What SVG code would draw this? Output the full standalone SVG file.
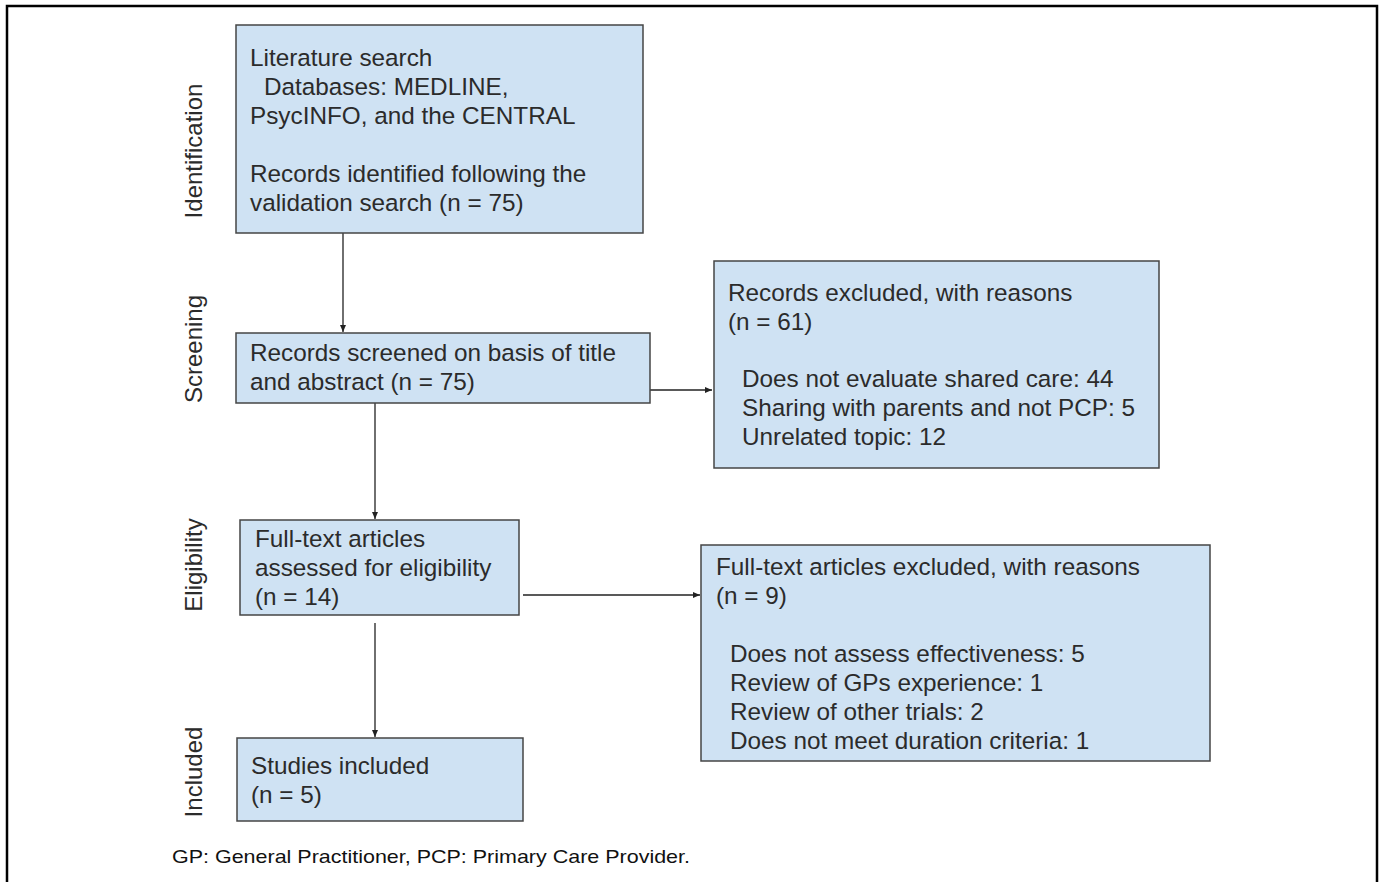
<svg xmlns="http://www.w3.org/2000/svg" width="1379" height="882" viewBox="0 0 1379 882">
<defs>
<marker id="ah" markerWidth="8" markerHeight="8" refX="7" refY="4" orient="auto" markerUnits="userSpaceOnUse">
<path d="M0,1 L7,4 L0,7 z" fill="#222"/>
</marker>
<style>
.box{fill:#cfe2f3;stroke:#454545;stroke-width:1.5}
.t{font-family:"Liberation Sans",Arial,sans-serif;font-size:24.3px;fill:#2b2b2b}
.side{font-family:"Liberation Sans",Arial,sans-serif;font-size:24px;fill:#2b2b2b}
.conn{stroke:#222;stroke-width:1.3;fill:none;marker-end:url(#ah)}
.note{font-family:"Liberation Sans",Arial,sans-serif;font-size:19px;fill:#111}
</style>
</defs>
<rect width="1379" height="882" fill="#fff"/>
<path d="M7,882 V6 H1377 V882" fill="none" stroke="#000" stroke-width="2.5"/>

<g id="labels">
<text class="side" transform="translate(202,151) rotate(-90)" text-anchor="middle">Identification</text>
<text class="side" transform="translate(202,349) rotate(-90)" text-anchor="middle">Screening</text>
<text class="side" transform="translate(202,565) rotate(-90)" text-anchor="middle">Eligibility</text>
<text class="side" transform="translate(202,772) rotate(-90)" text-anchor="middle">Included</text>
</g>

<g id="connectors">
<line class="conn" x1="343" y1="233" x2="343" y2="332"/>
<line class="conn" x1="650" y1="390" x2="712" y2="390"/>
<line class="conn" x1="375" y1="403" x2="375" y2="519"/>
<line class="conn" x1="523" y1="595" x2="700" y2="595"/>
<line class="conn" x1="375" y1="623" x2="375" y2="737"/>
</g>

<g id="n1">
<rect class="box" x="236" y="25" width="407" height="208"/>
<text class="t" x="250" y="66">Literature search</text>
<text class="t" x="264" y="95">Databases: MEDLINE,</text>
<text class="t" x="250" y="124">PsycINFO, and the CENTRAL</text>
<text class="t" x="250" y="182">Records identified following the</text>
<text class="t" x="250" y="211">validation search (n = 75)</text>
</g>

<g id="n2">
<rect class="box" x="236" y="333" width="414" height="70"/>
<text class="t" x="250" y="361">Records screened on basis of title</text>
<text class="t" x="250" y="390">and abstract (n = 75)</text>
</g>

<g id="n3">
<rect class="box" x="714" y="261" width="445" height="207"/>
<text class="t" x="728" y="301">Records excluded, with reasons</text>
<text class="t" x="728" y="330">(n = 61)</text>
<text class="t" x="742" y="387">Does not evaluate shared care: 44</text>
<text class="t" x="742" y="416">Sharing with parents and not PCP: 5</text>
<text class="t" x="742" y="445">Unrelated topic: 12</text>
</g>

<g id="n4">
<rect class="box" x="240" y="520" width="279" height="95"/>
<text class="t" x="255" y="547">Full-text articles</text>
<text class="t" x="255" y="576">assessed for eligibility</text>
<text class="t" x="255" y="605">(n = 14)</text>
</g>

<g id="n5">
<rect class="box" x="701" y="545" width="509" height="216"/>
<text class="t" x="716" y="575">Full-text articles excluded, with reasons</text>
<text class="t" x="716" y="604">(n = 9)</text>
<text class="t" x="730" y="662">Does not assess effectiveness: 5</text>
<text class="t" x="730" y="691">Review of GPs experience: 1</text>
<text class="t" x="730" y="720">Review of other trials: 2</text>
<text class="t" x="730" y="749">Does not meet duration criteria: 1</text>
</g>

<g id="n6">
<rect class="box" x="237" y="738" width="286" height="83"/>
<text class="t" x="251" y="774">Studies included</text>
<text class="t" x="251" y="803">(n = 5)</text>
</g>

<text class="note" x="172" y="863" textLength="518" lengthAdjust="spacingAndGlyphs">GP: General Practitioner, PCP: Primary Care Provider.</text>
</svg>
